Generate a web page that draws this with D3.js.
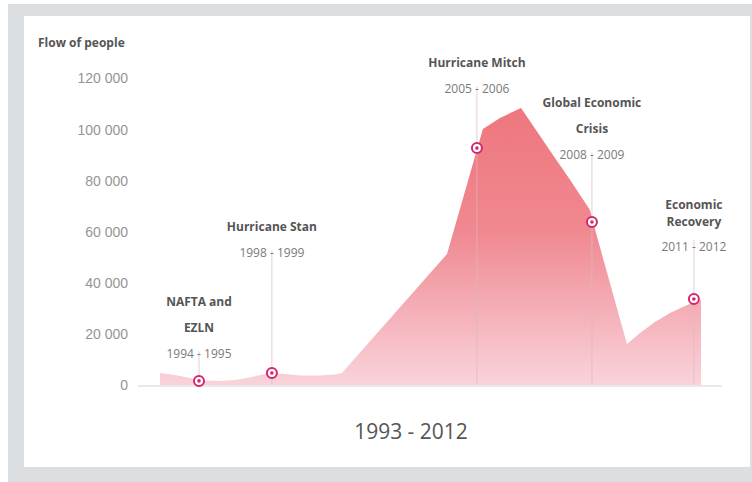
<!DOCTYPE html>
<html>
<head>
  <meta charset="utf-8">
  <title>Flow of people 1993 - 2012</title>
  <script src="https://d3js.org/d3.v7.min.js"></script>
  <style>
    html, body { margin: 0; padding: 0; background: #fff; }
    svg { display: block; font-family: "Open Sans", "DejaVu Sans", sans-serif; }
    .tick text { fill: #959595; font-size: 14px; }
    .label { fill: #555; font-weight: 700; font-size: 12px; }
    .date { fill: #7a7a7a; font-size: 12px; }
  </style>
</head>
<body>
  <script>
    // timeline position (years) and flow of people
    var years = [1993, 1993.53, 1994.05, 1994.58, 1995.11, 1995.63, 1996.16, 1996.58, 1996.93, 1997.39,
                 1997.92, 1998.62, 1999.15, 1999.39, 2003.08, 2004.34, 2004.94, 2005.68, 2006.8, 2007.4,
                 2008.1, 2008.35, 2009.4, 2009.86, 2010.38, 2010.91, 2011.44, 2011.75, 2012];
    var flows = [4700, 3900, 2700, 1800, 1600, 1950, 2900, 4100, 4700, 4300,
                 3700, 3700, 4100, 4700, 51200, 100100, 104400, 108300, 89900, 80200,
                 68400, 57900, 16000, 20300, 24600, 28100, 30900, 32400, 33200];

    var eventNames = [["NAFTA and", "EZLN"], ["Hurricane Stan"], ["Hurricane Mitch"], ["Global Economic", "Crisis"], ["Economic", "Recovery"]];
    var eventDates = ["1994 - 1995", "1998 - 1999", "2005 - 2006", "2008 - 2009", "2011 - 2012"];
    var eventYears = [1994.37, 1996.93, 2004.13, 2008.17, 2011.75];
    var eventFlows = [1600, 4700, 92600, 63700, 33600];
    var eventLabelY = [302, 227, 63, 103, 205]; // first label line position
    var eventLineGap = [26, 26, 26, 26, 17];

    var yTicks = [0, 20000, 40000, 60000, 80000, 100000, 120000];

    var W = 752, H = 482;
    var svg = d3.select("body").append("svg")
      .attr("width", W)
      .attr("height", H);

    // grey frame + white card
    svg.append("rect").attr("x", 8).attr("y", 4).attr("width", W - 8).attr("height", H - 4).attr("fill", "#dcdfe2");
    svg.append("rect").attr("x", 24).attr("y", 16).attr("width", 726).attr("height", 451).attr("fill", "#fff");

    var x = d3.scaleLinear().domain([1993, 2012]).range([160, 701]);
    var y = d3.scaleLinear().domain([0, 120000]).range([385, 78]);

    var fmt = d3.formatLocale({ decimal: ".", thousands: " ", grouping: [3], currency: ["", ""] }).format(",");

    var grad = svg.append("defs").append("linearGradient")
      .attr("id", "fillGrad")
      .attr("gradientUnits", "userSpaceOnUse")
      .attr("x1", 0).attr("x2", 0)
      .attr("y1", y(110000)).attr("y2", y(0));
    grad.append("stop").attr("offset", "0%").attr("stop-color", "#ee767e");
    grad.append("stop").attr("offset", "45%").attr("stop-color", "#f08890");
    grad.append("stop").attr("offset", "100%").attr("stop-color", "#f9d3db");

    // y axis
    var yAxis = svg.append("g")
      .attr("transform", "translate(128,0)")
      .call(d3.axisLeft(y).tickValues(yTicks).tickFormat(fmt).tickSize(0).tickPadding(0));
    yAxis.select(".domain").remove();
    yAxis.selectAll(".tick text").attr("dy", "0.35em");

    // baseline
    svg.append("line")
      .attr("x1", 138).attr("x2", 722)
      .attr("y1", y(0) + 1).attr("y2", y(0) + 1)
      .attr("stroke", "#e2e2e2").attr("stroke-width", 1.5);

    var data = years.map(function(d, i) { return { year: d, flow: flows[i] }; });

    var area = d3.area()
      .x(function(d) { return x(d.year); })
      .y0(y(0))
      .y1(function(d) { return y(d.flow); });

    svg.append("path")
      .datum(data)
      .attr("d", area)
      .attr("fill", "url(#fillGrad)");

    // event lines, labels and markers
    var events = eventNames.map(function(n, i) {
      return { name: n, date: eventDates[i], year: eventYears[i], flow: eventFlows[i], ly: eventLabelY[i], gap: eventLineGap[i] };
    });

    var ev = svg.selectAll(".event")
      .data(events)
      .enter()
      .append("g")
      .attr("class", "event");

    ev.append("line")
      .attr("x1", function(d) { return x(d.year); })
      .attr("x2", function(d) { return x(d.year); })
      .attr("y1", function(d) { return d.ly + d.gap * (d.name.length - 1) + d.gap * 0.6 + 8; })
      .attr("y2", y(0))
      .attr("stroke", "#d9b9bd")
      .attr("stroke-opacity", 0.7)
      .attr("stroke-width", 1);

    ev.each(function(d) {
      var g = d3.select(this);
      d.name.forEach(function(line, k) {
        g.append("text")
          .attr("class", "label")
          .attr("x", x(d.year))
          .attr("y", d.ly + k * d.gap)
          .attr("dy", "0.35em")
          .attr("text-anchor", "middle")
          .text(line);
      });
      g.append("text")
        .attr("class", "date")
        .attr("x", x(d.year))
        .attr("y", d.ly + (d.name.length - 1) * d.gap + (d.gap === 26 ? 26 : 25))
        .attr("dy", "0.35em")
        .attr("text-anchor", "middle")
        .text(d.date);
    });

    ev.append("circle")
      .attr("cx", function(d) { return x(d.year); })
      .attr("cy", function(d) { return y(d.flow); })
      .attr("r", 5)
      .attr("fill", "#fff")
      .attr("stroke", "#d4266f")
      .attr("stroke-width", 2);

    ev.append("circle")
      .attr("cx", function(d) { return x(d.year); })
      .attr("cy", function(d) { return y(d.flow); })
      .attr("r", 1.8)
      .attr("fill", "#d4266f");

    svg.append("text")
      .attr("x", 38).attr("y", 43)
      .attr("dy", "0.35em")
      .attr("fill", "#555")
      .attr("font-weight", 700)
      .attr("font-size", 12)
      .text("Flow of people");

    svg.append("text")
      .attr("x", 411).attr("y", 432)
      .attr("dy", "0.35em")
      .attr("text-anchor", "middle")
      .attr("fill", "#555")
      .attr("font-size", 21)
      .text("1993 - 2012");
  </script>
</body>
</html>
